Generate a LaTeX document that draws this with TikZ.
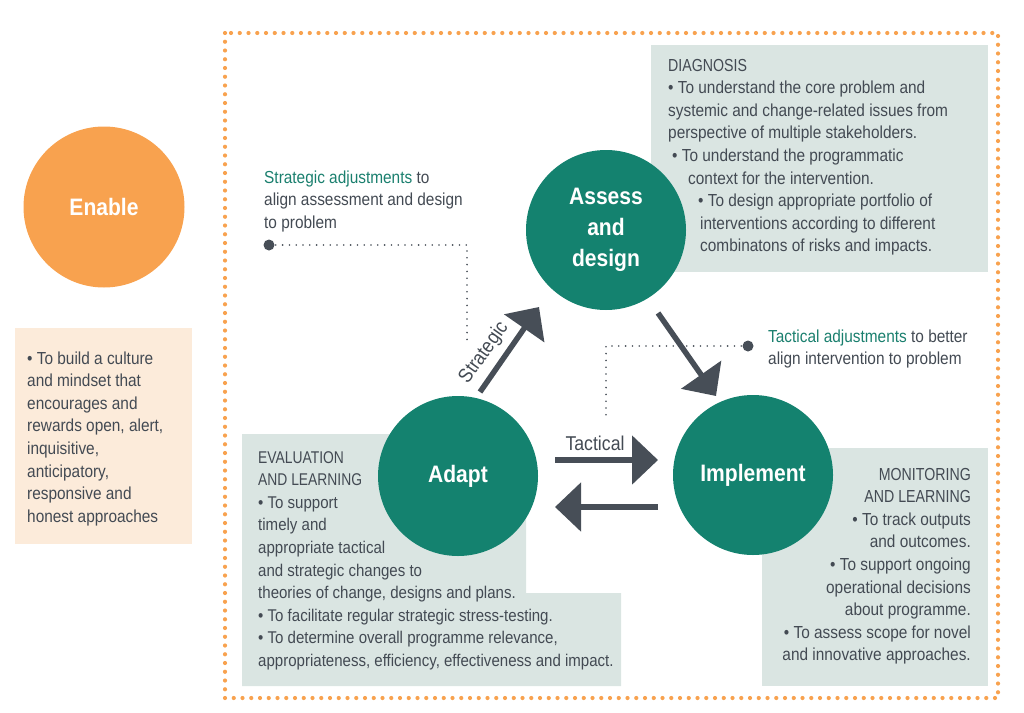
\documentclass[tikz,border=0pt]{standalone}
\usepackage{fontspec}
\setmainfont{Liberation Sans}[FakeStretch=0.885]
\newfontfamily\capsfont{Liberation Sans}[FakeStretch=0.815]
\usetikzlibrary{arrows.meta}
\definecolor{tealc}{HTML}{14826F}
\definecolor{orangec}{HTML}{F8A24F}
\definecolor{peach}{HTML}{FCEBDA}
\definecolor{boxc}{HTML}{DAE5E2}
\definecolor{txt}{HTML}{434A53}
\definecolor{arrc}{HTML}{474E57}
\definecolor{greentxt}{HTML}{1A7F6E}
\begin{document}
\begin{tikzpicture}[x=1pt,y=-1pt,
  body/.style={font=\fontsize{17.4}{22.6}\selectfont, text=txt, inner sep=0pt, align=left},
  circ/.style={circle, minimum size=160pt, fill=tealc, text=white, inner sep=0pt, align=center,
    font=\bfseries\fontsize{23.8}{31}\selectfont},
  framedots/.style={draw=orangec, line width=4.2pt, line cap=round, dash pattern=on 0pt off 8.75pt},
  finedots/.style={draw=arrc, line width=1.8pt, line cap=round, dash pattern=on 0pt off 6.8pt},
  bigarrow/.style={draw=arrc, line width=5.5pt, -{Triangle[width=48pt,length=26pt]}},
  enddot/.style={circle, fill=arrc, inner sep=0pt, minimum size=11pt},
  arrlabel/.style={font=\fontsize{20}{24}\selectfont, text=txt, inner sep=0pt}
]
\useasboundingbox (0,0) rectangle (1024,712);
% frame
\draw[framedots] (225,33) rectangle (998,698);
% Enable
\node[circle, minimum size=161pt, fill=orangec, text=white, inner sep=0pt,
  font=\bfseries\fontsize{23.8}{31}\selectfont] (enable) at (104,207) {Enable};
\fill[peach] (15,328) rectangle (192,544);
\node[body, anchor=north west] (enabletxt) at (27,348) {\strut• To build a culture\\and mindset that\\encourages and\\rewards open, alert,\\inquisitive,\\anticipatory,\\responsive and\\honest approaches};
% boxes
\fill[boxc] (651,45) rectangle (988,272);
\fill[boxc] (242,434) -- (526,434) -- (526,593) -- (621,593) -- (621,686) -- (242,686) -- cycle;
\fill[boxc] (762,448) rectangle (988,686);
% box texts
\node[body, anchor=north west] (diag) at (668,55) {\strut{\capsfont DIAGNOSIS}\\• To understand the core problem and\\systemic and change-related issues from\\perspective of multiple stakeholders.\\\hspace*{4pt}• To understand the programmatic\\\hspace*{20pt}context for the intervention.\\\hspace*{30pt}• To design appropriate portfolio of\\\hspace*{32pt}interventions according to different\\\hspace*{32pt}combinatons of risks and impacts.};
\node[body, anchor=north west, font=\fontsize{17.0}{22.6}\selectfont] (evaltxt) at (258,447) {\strut{\capsfont EVALUATION}\\{\capsfont AND LEARNING}\\• To support\\timely and\\appropriate tactical\\and strategic changes to\\theories of change, designs and plans.\\• To facilitate regular strategic stress-testing.\\• To determine overall programme relevance,\\appropriateness, efficiency, effectiveness and impact.};
\node[body, anchor=north east, align=right] (montxt) at (971,464) {\strut{\capsfont MONITORING}\\{\capsfont AND LEARNING}\\• To track outputs\\and outcomes.\\• To support ongoing\\operational decisions\\about programme.\\• To assess scope for novel\\and innovative approaches.};
% circles
\node[circ] (assess) at (606,230) {Assess\\and\\design};
\node[circ] (adapt) at (458,476) {Adapt};
\node[circ] (impl) at (753,475) {Implement};
% adjustments texts
\node[body, anchor=north west] (stradj) at (264,167) {\strut{\color{greentxt}Strategic adjustments} to\\align assessment and design\\to problem};
\node[body, anchor=north west] (tacadj) at (768,326) {\strut{\color{greentxt}Tactical adjustments} to better\\align intervention to problem};
% dotted leaders
\node[enddot] (sdot) at (269,245) {};
\coordinate (scorner) at (467,245);
\coordinate (send) at (467,343);
\draw[finedots] (sdot.center) -- (scorner) -- (send);
\node[enddot] (tdot) at (748,346) {};
\coordinate (tcorner) at (606,346);
\coordinate (tend) at (606,419);
\draw[finedots] (tdot.center) -- (tcorner) -- (tend);
% arrows
\coordinate (sa1) at (480,392);
\coordinate (sa2) at (539,307);
\draw[bigarrow] (sa1) -- (sa2);
\coordinate (ia1) at (658,313);
\coordinate (ia2) at (716,396);
\draw[bigarrow] (ia1) -- (ia2);
\coordinate (ta1) at (555,460);
\coordinate (ta2) at (658,460);
\draw[bigarrow] (ta1) -- (ta2);
\coordinate (ra1) at (658,507);
\coordinate (ra2) at (555,507);
\draw[bigarrow] (ra1) -- (ra2);
% arrow labels
\node[arrlabel, rotate=54.5] (strlab) at (484,353) {Strategic};
\node[arrlabel] (taclab) at (595,443) {Tactical};
\end{tikzpicture}
\end{document}
